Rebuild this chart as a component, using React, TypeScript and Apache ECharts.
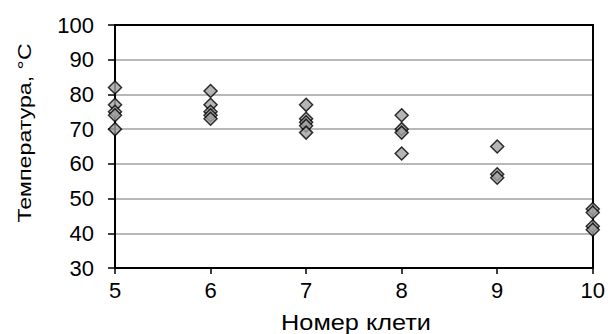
import React, { useEffect, useRef } from "react";
import * as echarts from "echarts";

const stands = [5, 5, 5, 5, 5, 6, 6, 6, 6, 6, 7, 7, 7, 7, 7, 8, 8, 8, 8, 9, 9, 9, 10, 10, 10, 10];
const temps = [82, 77, 75, 74, 70, 81, 77, 75, 74, 73, 77, 73, 72, 71, 69, 74, 70, 69, 63, 65, 57, 56, 47, 46, 42, 41];
const xTitle = "Номер клети";
const yTitle = "Температура, °С";

export default function App() {
  const ref = useRef<HTMLDivElement>(null);
  useEffect(() => {
    const chart = echarts.init(ref.current!, null, { renderer: "svg" });
    const font = "Liberation Sans, Arial, sans-serif";
    chart.setOption({
      animation: false,
      backgroundColor: "#ffffff",
      grid: { left: 115, right: 15, top: 25, bottom: 66, show: false },
      xAxis: {
        type: "value",
        min: 5,
        max: 10,
        interval: 1,
        axisLine: { show: true, onZero: false, lineStyle: { color: "#000", width: 2 } },
        axisTick: { show: true, length: 6, lineStyle: { color: "#000", width: 1.5 } },
        axisLabel: { fontFamily: font, fontSize: 22, color: "#000", margin: 11 },
        splitLine: { show: false },
      },
      yAxis: {
        type: "value",
        min: 30,
        max: 100,
        interval: 10,
        axisLine: { show: true, onZero: false, lineStyle: { color: "#000", width: 2 } },
        axisTick: { show: true, length: 7, lineStyle: { color: "#000", width: 1.5 } },
        axisLabel: { fontFamily: font, fontSize: 22, color: "#000", margin: 21 },
        splitLine: { show: true, lineStyle: { color: "#a0a0a0", width: 1.5 } },
      },
      graphic: [
        {
          type: "text",
          x: 24,
          y: 133,
          rotation: Math.PI / 2,
          scaleX: 1.22,
          style: {
            text: yTitle,
            fontFamily: font,
            fontSize: 19,
            fill: "#000",
            align: "center",
            verticalAlign: "middle",
          },
        },
        {
          type: "text",
          x: 356,
          y: 323,
          scaleX: 1.15,
          style: {
            text: xTitle,
            fontFamily: font,
            fontSize: 22,
            fill: "#000",
            align: "center",
            verticalAlign: "middle",
          },
        },
        {
          type: "rect",
          shape: { x: 115, y: 25, width: 478, height: 243 },
          style: { fill: "none", stroke: "#000", lineWidth: 2 },
          z: 10,
          silent: true,
        },
      ],
      series: [
        {
          type: "scatter",
          data: stands.map((s, i) => [s, temps[i]]),
          symbol: "diamond",
          symbolSize: [13, 13],
          itemStyle: { color: "#a3a3a3", borderColor: "#000", borderWidth: 1.5 },
          z: 20,
        },
      ],
    });
    return () => chart.dispose();
  }, []);
  return <div ref={ref} style={{ width: 608, height: 334, position: "absolute", left: 0, top: 0 }} />;
}
